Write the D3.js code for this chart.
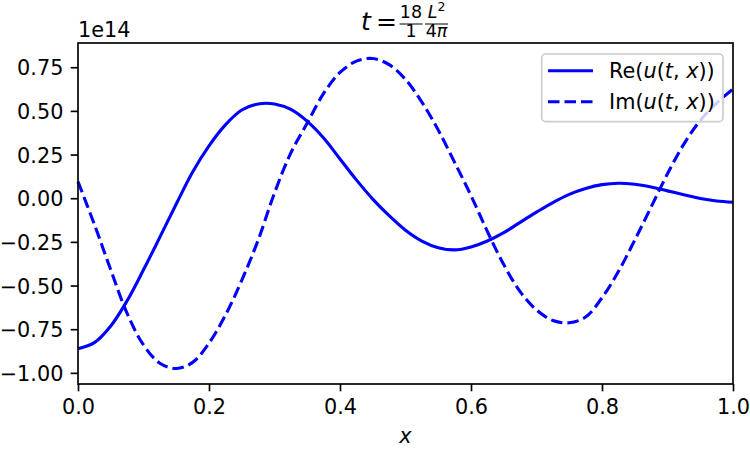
<!DOCTYPE html>
<meta charset="utf-8">
<style>
  body { margin: 0; background: #fff; }
  text { font-family: "DejaVu Sans", sans-serif; fill: #000; }
</style>
<body>
</body>
<script src="https://d3js.org/d3.v7.min.js"></script>
<script>

// sample positions along x, values in units of 1e14
var xs = d3.range(41).map(function(i) { return i / 40; });

var reValues = [
  -0.862, -0.827, -0.732, -0.587, -0.41, -0.223, -0.033, 0.15, 0.30, 0.42,
  0.505, 0.54, 0.54, 0.508, 0.44, 0.345, 0.225, 0.105, -0.005, -0.10,
  -0.183, -0.245, -0.283, -0.296, -0.279, -0.245, -0.197, -0.138, -0.08, -0.025,
  0.022, 0.056, 0.078, 0.086, 0.08, 0.064, 0.042, 0.02, -0.002, -0.016,
  -0.023
];

var imValues = [
  0.095, -0.15, -0.41, -0.66, -0.84, -0.945, -0.975, -0.94, -0.83, -0.67,
  -0.47, -0.24, 0.03, 0.26, 0.43, 0.60, 0.72, 0.785, 0.80, 0.765,
  0.68, 0.55, 0.39, 0.205, 0.015, -0.19, -0.38, -0.535, -0.64, -0.70,
  -0.713, -0.68, -0.57, -0.42, -0.24, -0.05, 0.14, 0.31, 0.445, 0.545,
  0.625
];

var xTicks = [0, 0.2, 0.4, 0.6, 0.8, 1.0];
var yTicks = [-1.0, -0.75, -0.5, -0.25, 0, 0.25, 0.5, 0.75];

var width = 750, height = 450;
var margin = {top: 43, right: 17, bottom: 66, left: 78};
var fs = 20.8;

var svg = d3.select("body").append("svg")
  .attr("width", width)
  .attr("height", height);

var x = d3.scaleLinear()
  .domain([0, 1])
  .range([margin.left, width - margin.right]);

var yMin = d3.min(reValues.concat(imValues)), yMax = d3.max(reValues.concat(imValues));
var pad = (yMax - yMin) * 0.05;
var y = d3.scaleLinear()
  .domain([yMin - pad, yMax + pad])
  .range([height - margin.bottom, margin.top]);

// x axis
var xAxis = svg.append("g")
  .attr("transform", "translate(0," + (height - margin.bottom) + ")")
  .call(d3.axisBottom(x).tickValues(xTicks).tickFormat(d3.format(".1f"))
    .tickSize(7.3).tickSizeOuter(0).tickPadding(7.3));

// y axis
var yAxis = svg.append("g")
  .attr("transform", "translate(" + margin.left + ",0)")
  .call(d3.axisLeft(y).tickValues(yTicks).tickFormat(d3.format(".2f"))
    .tickSize(7.3).tickSizeOuter(0).tickPadding(7.3));

svg.selectAll(".domain").remove();
svg.selectAll(".tick line").attr("stroke", "#000").attr("stroke-width", 1.67);
svg.selectAll(".tick text")
  .style("font-family", "'DejaVu Sans', sans-serif")
  .style("font-size", fs + "px")
  .attr("fill", "#000");
xAxis.selectAll(".tick text").attr("dy", "0.76em");
yAxis.selectAll(".tick text").attr("dy", "0.36em");

// lines
var line = d3.line()
  .x(function(d) { return x(d[0]); })
  .y(function(d) { return y(d[1]); })
  .curve(d3.curveCatmullRom.alpha(0.5));

svg.append("path")
  .datum(d3.zip(xs, reValues))
  .attr("fill", "none")
  .attr("stroke", "#0000ff")
  .attr("stroke-width", 3.1)
  .attr("d", line);

svg.append("path")
  .datum(d3.zip(xs, imValues))
  .attr("fill", "none")
  .attr("stroke", "#0000ff")
  .attr("stroke-width", 3.1)
  .attr("stroke-dasharray", "11.5,5")
  .attr("d", line);

// frame
svg.append("rect")
  .attr("x", margin.left)
  .attr("y", margin.top)
  .attr("width", width - margin.left - margin.right)
  .attr("height", height - margin.top - margin.bottom)
  .attr("fill", "none")
  .attr("stroke", "#000")
  .attr("stroke-width", 1.67);

// offset text
svg.append("text")
  .attr("x", margin.left)
  .attr("y", 36.7)
  .style("font-size", fs + "px")
  .text("1e14");

// x label
svg.append("text")
  .attr("x", (x(0) + x(1)) / 2)
  .attr("y", 443.3)
  .attr("text-anchor", "middle")
  .style("font-size", fs + "px")
  .style("font-style", "italic")
  .text("x");

// title: t = 18/1 L^2/4pi
var title = svg.append("g");
var tfs = 25, ffs = 17.5;
title.append("text").attr("x", 361).attr("y", 30)
  .style("font-size", tfs + "px").style("font-style", "italic").text("t");
title.append("text").attr("x", 376).attr("y", 30)
  .style("font-size", tfs + "px").text("=");

function frac(cx, w, num, den) {
  var n = title.append("text").attr("x", cx).attr("y", 18.3)
    .attr("text-anchor", "middle").style("font-size", ffs + "px");
  num(n);
  var d = title.append("text").attr("x", cx).attr("y", 37.3)
    .attr("text-anchor", "middle").style("font-size", ffs + "px");
  den(d);
  title.append("line")
    .attr("x1", cx - w / 2).attr("x2", cx + w / 2)
    .attr("y1", 24).attr("y2", 24)
    .attr("stroke", "#000").attr("stroke-width", 1);
}
frac(411, 23, function(t) { t.text("18"); }, function(t) { t.text("1"); });
frac(436.5, 23, function(t) {
  t.append("tspan").style("font-style", "italic").text("L");
  t.append("tspan").attr("dy", -7).style("font-size", "12.5px").text("2");
}, function(t) {
  t.append("tspan").text("4");
  t.append("tspan").style("font-style", "italic").text("π");
});

// legend
var lg = svg.append("g");
lg.append("rect")
  .attr("x", 541.7).attr("y", 54)
  .attr("width", 181.3).attr("height", 67.7)
  .attr("rx", 4)
  .attr("fill", "#fff").attr("fill-opacity", 0.8)
  .attr("stroke", "#cccccc").attr("stroke-width", 1.67);

var legendItems = [["Re", null], ["Im", "11.5,5"]];
legendItems.forEach(function(item, i) {
  var ly = 70.7 + i * 31;
  lg.append("line")
    .attr("x1", 548).attr("x2", 593)
    .attr("y1", ly).attr("y2", ly)
    .attr("stroke", "#0000ff").attr("stroke-width", 3.1)
    .attr("stroke-dasharray", item[1]);
  var t = lg.append("text").attr("x", 609).attr("y", ly + 7.5)
    .style("font-size", fs + "px");
  t.append("tspan").text(item[0] + "(");
  t.append("tspan").style("font-style", "italic").text("u");
  t.append("tspan").text("(");
  t.append("tspan").style("font-style", "italic").text("t");
  t.append("tspan").text(", ");
  t.append("tspan").style("font-style", "italic").text("x");
  t.append("tspan").text("))");
});

</script>
